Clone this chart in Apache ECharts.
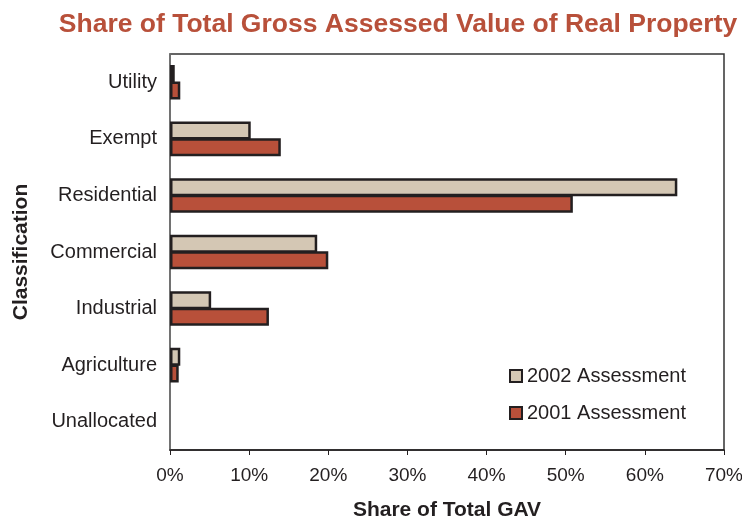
<!DOCTYPE html>
<html>
<head>
<meta charset="utf-8">
<script src="https://cdn.jsdelivr.net/npm/echarts@6/dist/echarts.min.js"></script>
<style>
	body{ margin:0; background:#fff; }
	#chart{ width:742px; height:520px; }
</style>
</head>
<body>
<div id="chart"></div>
<script>
	// 分类和数值 (% of total GAV)
	var categories = ['Utility', 'Exempt', 'Residential', 'Commercial', 'Industrial', 'Agriculture', 'Unallocated'];
	var seriesNames = ['2002 Assessment', '2001 Assessment'];
	var values2002 = [0.6, 10.2, 64.1, 18.6, 5.2, 1.3, 0];
	var values2001 = [1.3, 14.0, 50.9, 20.0, 12.5, 1.1, 0];
	var xTicks = [0, 10, 20, 30, 40, 50, 60, 70];

	var font = "'Liberation Sans', Arial, sans-serif";
	var myChart = echarts.init(document.getElementById('chart'));

	// 0 的柱子不画（不然边框会画出一条线）
	function noZero(arr) {
		return arr.map(function (v) { return v === 0 ? '-' : v; });
	}

	myChart.setOption({
		animation: false,
		title: {
			text: 'Share of Total Gross Assessed Value of Real Property',
			left: 393,
			textAlign: 'center',
			top: 6,
			textStyle: { color: '#b8503a', fontSize: 26.5, fontWeight: 'bold', fontFamily: font }
		},
		legend: {
			orient: 'vertical',
			left: 504,
			top: 361,
			itemWidth: 12,
			itemHeight: 12,
			itemGap: 17,
			itemTextGap: 7,
			icon: 'rect',
			data: seriesNames,
			textStyle: { fontSize: 20, color: '#231f20', fontFamily: font }
		},
		grid: {
			left: 170,
			right: 18,
			top: 54,
			bottom: 70,
			outerBoundsMode: 'none',
			show: true,
			borderColor: '#333',
			borderWidth: 1.5
		},
		xAxis: {
			type: 'value',
			min: 0,
			max: 70,
			interval: 10,
			name: 'Share of Total GAV',
			nameLocation: 'middle',
			nameGap: 50,
			nameTextStyle: { fontSize: 21, fontWeight: 'bold', color: '#231f20', fontFamily: font },
			axisLine: { show: true, lineStyle: { color: '#231f20', width: 1.5 } },
			axisTick: { show: true, length: 5, lineStyle: { color: '#231f20' } },
			splitLine: { show: false },
			axisLabel: {
				fontSize: 19, color: '#231f20', fontFamily: font, margin: 16,
				formatter: function (v) { return xTicks.indexOf(v) >= 0 ? v + '%' : ''; }
			}
		},
		yAxis: {
			type: 'category',
			inverse: true,
			data: categories,
			name: 'Classification',
			nameLocation: 'middle',
			nameGap: 138,
			nameRotate: 90,
			nameTextStyle: { fontSize: 21, fontWeight: 'bold', color: '#231f20', fontFamily: font },
			axisLine: { show: true, lineStyle: { color: '#777', width: 1.5 } },
			axisTick: { show: false },
			axisLabel: { fontSize: 20, color: '#231f20', fontFamily: font, margin: 13 }
		},
		series: [
			{
				name: seriesNames[0],
				type: 'bar',
				data: noZero(values2002),
				barWidth: 18,
				barGap: '-8%',
				itemStyle: { color: '#d4c7b4', borderColor: '#231f20', borderWidth: 2.5 }
			},
			{
				name: seriesNames[1],
				type: 'bar',
				data: noZero(values2001),
				barWidth: 18,
				barGap: '-8%',
				itemStyle: { color: '#b8503a', borderColor: '#231f20', borderWidth: 2.5 }
			}
		]
	});
</script>
</body>
</html>
